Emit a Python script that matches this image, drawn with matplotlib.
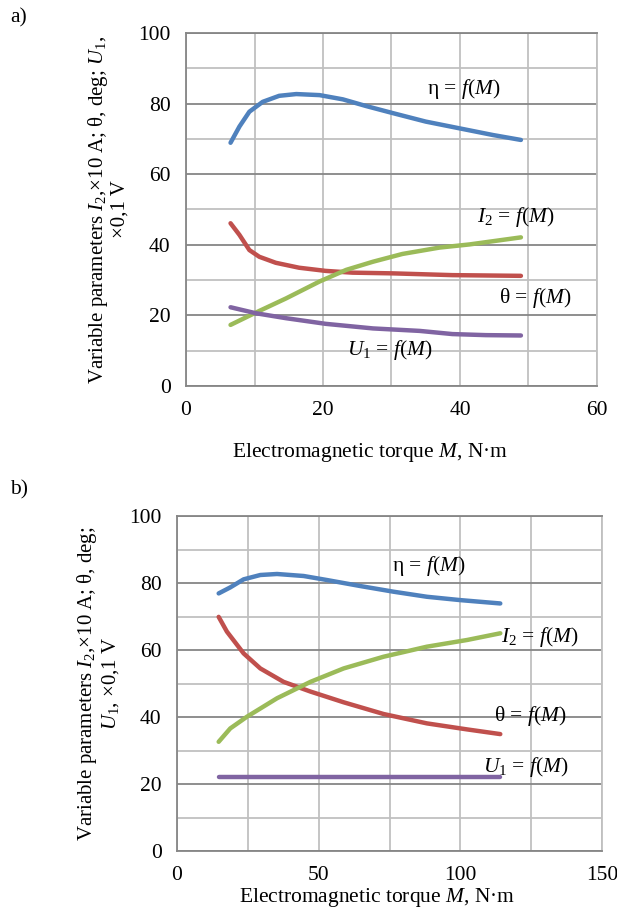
import matplotlib
matplotlib.use("Agg")
import matplotlib.pyplot as plt
from matplotlib.ticker import MultipleLocator

plt.rcParams['font.family'] = ['Liberation Serif', 'DejaVu Serif']
plt.rcParams['mathtext.fontset'] = 'custom'
plt.rcParams['mathtext.rm'] = 'Liberation Serif'
plt.rcParams['mathtext.it'] = 'Liberation Serif:italic'

# --- colours (Excel 2007 palette) ---
C_ETA = '#4F81BD'
C_THETA = '#C0504D'
C_I2 = '#9BBB59'
C_U1 = '#8064A2'
GRID_LIGHT = '#c0c0c0'
GRID_DARK = '#868686'

# --- panel a) data ---
a_eta_x = [6.5, 7.8, 9.25, 11.2, 13.6, 16.1, 19.5, 22.9, 26.3, 30.2, 35.0, 39.9, 44.8, 48.9]
a_eta_y = [68.9, 73.5, 77.7, 80.5, 82.2, 82.7, 82.4, 81.2, 79.3, 77.3, 74.9, 73.0, 71.1, 69.7]
a_theta_x = [6.5, 7.8, 9.25, 10.7, 13.1, 16.5, 20.4, 24.3, 30.2, 38.9, 48.9]
a_theta_y = [46.1, 42.8, 38.5, 36.6, 34.9, 33.5, 32.6, 32.1, 31.9, 31.4, 31.2]
a_i2_x = [6.5, 10.2, 14.6, 19.5, 23.4, 27.3, 31.6, 37.0, 41.4, 48.9]
a_i2_y = [17.3, 20.8, 24.8, 29.6, 32.9, 35.2, 37.4, 39.2, 40.1, 42.1]
a_u1_x = [6.5, 10.2, 14.6, 20.4, 27.3, 34.1, 38.9, 43.8, 48.9]
a_u1_y = [22.3, 20.6, 19.2, 17.6, 16.3, 15.6, 14.7, 14.4, 14.3]

# --- panel b) data ---
b_eta_x = [14.7, 18.8, 23.5, 29.4, 35.3, 44.7, 52.9, 64.7, 76.5, 88.2, 100, 114.1]
b_eta_y = [76.9, 78.7, 81.1, 82.4, 82.7, 82.1, 80.9, 79.1, 77.4, 75.9, 74.9, 73.9]
b_theta_x = [14.7, 17.6, 23.5, 29.4, 37.6, 47.1, 58.8, 72.9, 88.2, 102.4, 114.1]
b_theta_y = [69.9, 65.5, 59.0, 54.5, 50.5, 47.6, 44.4, 40.9, 38.1, 36.3, 34.9]
b_i2_x = [14.7, 18.8, 24.7, 35.3, 47.1, 58.8, 72.9, 88.2, 102.4, 114.1]
b_i2_y = [32.6, 36.6, 40.1, 45.6, 50.5, 54.5, 58.0, 61.0, 63.0, 65.0]
b_u1_x = [14.7, 114.1]
b_u1_y = [22.0, 22.0]

fig = plt.figure(figsize=(6.17, 9.09), dpi=100)


def style_axes(ax, xmax, xstep):
    ax.set_xlim(0, xmax)
    ax.set_ylim(0, 100)
    ax.xaxis.set_major_locator(MultipleLocator(xstep * 2))
    ax.xaxis.set_minor_locator(MultipleLocator(xstep))
    ax.yaxis.set_major_locator(MultipleLocator(20))
    ax.yaxis.set_minor_locator(MultipleLocator(10))
    ax.grid(True, which='both', axis='x', color=GRID_LIGHT, lw=1.3)
    ax.grid(True, which='minor', axis='y', color=GRID_LIGHT, lw=1.3)
    ax.grid(True, which='major', axis='y', color=GRID_DARK, lw=1.3)
    ax.set_axisbelow(True)
    for s in ['left', 'bottom', 'top']:
        ax.spines[s].set_color(GRID_DARK)
        ax.spines[s].set_linewidth(1.3)
    ax.spines['right'].set_color(GRID_LIGHT)
    ax.spines['right'].set_linewidth(1.3)
    ax.tick_params(which='both', length=0, labelsize=15.5, pad=11)


lw = 3.2
kw = dict(lw=lw, solid_capstyle='round', solid_joinstyle='round')

# panel a
ax1 = fig.add_axes([0.3015, 0.5754, 0.666, 0.3883])
style_axes(ax1, 60, 10)
ax1.plot(a_eta_x, a_eta_y, color=C_ETA, **kw)
ax1.plot(a_theta_x, a_theta_y, color=C_THETA, **kw)
ax1.plot(a_i2_x, a_i2_y, color=C_I2, **kw)
ax1.plot(a_u1_x, a_u1_y, color=C_U1, **kw)
ax1.text(40.6, 84, r'η = $f$($M$)', fontsize=15.5, ha='center', va='center')
ax1.text(48.2, 47.8, r'$I_2$ = $f$($M$)', fontsize=15.5, ha='center', va='center')
ax1.text(51.0, 24.8, r'θ = $f$($M$)', fontsize=15.5, ha='center', va='center')
ax1.text(29.8, 10.3, r'$U_1$ = $f$($M$)', fontsize=15.5, ha='center', va='center')
ax1.set_xlabel(r'Electromagnetic torque $M$, N·m', fontsize=15.5)
ax1.xaxis.set_label_coords(0.448, -0.155)
ax1.set_ylabel('Variable parameters $I_2$,×10 A; θ, deg; $U_1$,\n×0,1 V',
               fontsize=15, labelpad=6, linespacing=1.1)
fig.text(10 / 617, 1 - 18 / 909, 'a)', fontsize=15.5, ha='left', va='center')

# panel b
ax2 = fig.add_axes([0.2869, 0.0638, 0.6888, 0.3685])
style_axes(ax2, 150, 25)
ax2.plot(b_eta_x, b_eta_y, color=C_ETA, **kw)
ax2.plot(b_theta_x, b_theta_y, color=C_THETA, **kw)
ax2.plot(b_i2_x, b_i2_y, color=C_I2, **kw)
ax2.plot(b_u1_x, b_u1_y, color=C_U1, **kw)
ax2.text(89, 85, r'η = $f$($M$)', fontsize=15.5, ha='center', va='center')
ax2.text(128, 64, r'$I_2$ = $f$($M$)', fontsize=15.5, ha='center', va='center')
ax2.text(124.5, 40.4, r'θ = $f$($M$)', fontsize=15.5, ha='center', va='center')
ax2.text(123, 25, r'$U_1$ = $f$($M$)', fontsize=15.5, ha='center', va='center')
ax2.set_xlabel(r'Electromagnetic torque $M$, N·m', fontsize=15.5)
ax2.xaxis.set_label_coords(0.47, -0.103)
ax2.set_ylabel('Variable parameters $I_2$,×10 A; θ, deg;\n$U_1$, ×0,1 V',
               fontsize=15, labelpad=6, linespacing=1.1)
fig.text(10 / 617, 1 - 490 / 909, 'b)', fontsize=15.5, ha='left', va='center')

fig.savefig('out.png', dpi=100)
